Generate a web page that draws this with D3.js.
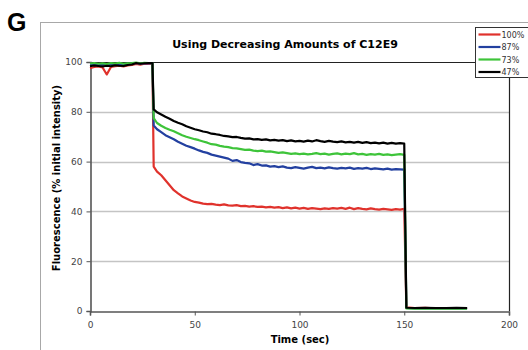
<!DOCTYPE html>
<html>
<head>
<meta charset="utf-8">
<script src="https://cdn.jsdelivr.net/npm/d3@7"></script>
<style>
body { margin: 0; background: #fff; }
svg { display: block; }
</style>
</head>
<body>
<div class="wrapper"></div>
<script>
// chart data

var times = [0, 2, 4, 6, 8, 10, 12, 14, 16, 18, 20, 22, 24, 26, 28, 29.8,
    30.4, 32, 34, 36, 38, 40, 42, 44, 46, 48, 50, 52, 54, 56, 58, 60,
    62, 64, 66, 68, 70, 72, 74, 76, 78, 80, 82, 84, 86, 88, 90,
    92, 94, 96, 98, 100, 102, 104, 106, 108, 110, 112, 114, 116, 118, 120,
    122, 124, 126, 128, 130, 132, 134, 136, 138, 140, 142, 144, 146, 148, 150,
    151, 155, 160, 165, 170, 175, 180];

var red100 = [97.5, 98, 98.2, 97.8, 95, 98, 98.3, 98.5, 98.2, 98.6, 98.8, 99.2, 98.9, 99.3, 99.2, 99.3,
    58, 56, 54.5, 52.5, 50.5, 48.5, 47.2, 46, 45.2, 44.4, 43.8, 43.5, 43.1, 42.9, 43, 42.7,
    42.5, 42.8, 42.4, 42.3, 42.5, 42.1, 42.2, 41.9, 42.1, 41.8, 41.9, 41.6, 41.8, 41.5, 41.7,
    41.3, 41.6, 41.2, 41.5, 41.1, 41.4, 41.0, 41.3, 41.1, 40.9, 41.2, 41.0, 41.3, 41.1, 41.4,
    41.0, 41.5, 40.9, 41.3, 41.0, 40.8, 41.2, 40.9, 40.7, 41.0, 40.8, 40.6, 40.9, 40.7, 41.0,
    1.5, 1.2, 1.3, 1.1, 1.2, 1.1, 1.2];

var blue87 = [99, 99.2, 99.0, 98.8, 99.1, 99.0, 98.7, 98.9, 99.1, 99.3, 99.4, 99.6, 99.3, 99.5, 99.4, 99.4,
    74.5, 73, 71.8, 70.6, 69.8, 69, 68, 67.2, 66.4, 65.8, 65.2, 64.5, 63.9, 63.5, 62.8, 62.4,
    62.0, 61.6, 61.2, 60.3, 60.6, 59.8, 59.5, 59.3, 58.6, 59.0, 58.4, 58.5, 58.0, 58.2, 57.8,
    58.1, 57.6, 57.4, 57.8, 57.5, 57.2, 57.6, 57.9, 57.4, 57.6, 57.3, 57.7, 57.4, 57.2, 57.5,
    57.3, 57.6, 57.1, 57.4, 57.2, 57.5, 57.0, 57.3, 57.1, 56.9, 57.2, 56.8, 57.0, 56.9, 56.8,
    1.2, 1.0, 1.1, 1.0, 1.0, 1.1, 1.0];

var green73 = [99.4, 99.6, 99.3, 99.5, 99.2, 99.6, 99.4, 99.7, 99.3, 99.5, 99.6, 99.8, 99.5, 99.7, 99.6, 99.5,
    77.5, 75.5, 74.4, 73.5, 72.8, 72.2, 71.4, 70.6, 70.0, 69.5, 69.0, 68.6, 68.1, 67.6, 67.0, 66.8,
    66.3, 66.0, 65.8, 65.4, 65.3, 65.0, 64.7, 64.8, 64.4, 64.2, 64.4, 64.0, 64.1, 63.8, 63.5,
    63.7, 63.4, 63.1, 63.3, 63.0, 63.2, 62.9, 63.1, 63.4, 63.0, 63.2, 62.8, 63.1, 63.3, 62.9,
    63.2, 63.0, 63.4, 62.9, 63.1, 62.7, 63.0, 62.8, 63.1, 62.7, 62.9, 62.6, 62.8, 63.0, 62.7,
    1.0, 0.9, 1.0, 0.9, 0.9, 1.0, 0.9];

var black47 = [98.3, 98.6, 98.4, 98.2, 98.5, 98.3, 98.7, 98.5, 98.4, 98.8, 99.0, 99.6, 99.3, 99.5, 99.6, 99.6,
    81, 79.8, 78.9, 78.0, 77.2, 76.3, 75.6, 75.0, 74.2, 73.6, 73.0, 72.6, 72.1, 71.8, 71.2, 71.0,
    70.7, 70.3, 70.1, 69.8, 69.9, 69.5, 69.2, 69.3, 68.9, 69.0, 68.7, 68.9, 68.5, 68.7, 68.4,
    68.6, 68.2, 68.5, 68.1, 68.3, 68.0, 68.4, 68.1, 68.6, 68.2, 67.9, 68.3, 68.0, 67.8, 68.1,
    67.7, 67.9, 67.6, 67.9, 67.5, 67.8, 67.4, 67.6, 67.3, 67.6, 67.2, 67.5, 67.2, 67.4, 67.2,
    1.3, 1.2, 1.3, 1.2, 1.2, 1.3, 1.2];

var seriesNames = ["100%", "87%", "73%", "47%"];
var seriesValues = [red100, blue87, green73, black47];
var seriesColors = ["#e0322c", "#2340a0", "#3ec43a", "#000000"];

var xTicks = [0, 50, 100, 150, 200];
var yTicks = [0, 20, 40, 60, 80, 100];

var svgWidth = 528;
var svgHeight = 350;
var plot = {left: 90, right: 509, top: 62, bottom: 311};

var svg = d3.select(".wrapper").append("svg")
    .attr("width", svgWidth)
    .attr("height", svgHeight);

// outer chart frame
svg.append("rect")
    .attr("x", 40.5).attr("y", 22.5)
    .attr("width", 600).attr("height", 400)
    .attr("fill", "#fff")
    .attr("stroke", "#a8a8a8");

// panel letter
svg.append("text")
    .attr("x", 7).attr("y", 31)
    .attr("font-family", "Liberation Sans, Arial, sans-serif")
    .attr("font-weight", "bold")
    .attr("font-size", 25)
    .text("G");

var x = d3.scaleLinear().domain([0, 200]).range([plot.left, plot.right]);
var y = d3.scaleLinear().domain([0, 100]).range([plot.bottom, plot.top]);

// gridlines
svg.append("g")
    .selectAll("line")
    .data(yTicks.filter(function(d) { return d > 0 && d < 100; }))
    .enter()
    .append("line")
    .attr("x1", plot.left).attr("x2", plot.right)
    .attr("y1", function(d) { return Math.round(y(d)) + 0.5; })
    .attr("y2", function(d) { return Math.round(y(d)) + 0.5; })
    .attr("stroke", "#c4c4c4")
    .attr("stroke-width", 1.3);

// top and right border of plot area
svg.append("path")
    .attr("d", "M" + plot.left + "," + (plot.top + 0.5) + "H" + (plot.right + 0.5) + "V" + plot.bottom)
    .attr("fill", "none")
    .attr("stroke", "#222")
    .attr("stroke-width", 1.2);

// axes
var xAxis = d3.axisBottom(x).tickValues(xTicks).tickSize(4).tickPadding(6);
var yAxis = d3.axisLeft(y).tickValues(yTicks).tickSize(4).tickPadding(4);

var gx = svg.append("g")
    .attr("transform", "translate(0," + (plot.bottom + 0.5) + ")")
    .call(xAxis);
var gy = svg.append("g")
    .attr("transform", "translate(" + (plot.left + 0.5) + ",0)")
    .call(yAxis);

[gx, gy].forEach(function(g) {
    g.select(".domain").attr("stroke", "#555").attr("stroke-width", 1.6);
    g.selectAll(".tick line").attr("stroke", "#555");
    g.selectAll(".tick text")
        .attr("fill", "#444")
        .attr("font-family", "DejaVu Sans, Verdana, sans-serif")
        .attr("font-size", 9);
});

// series lines
var line = d3.line()
    .x(function(d, i) { return x(times[i]); })
    .y(function(d) { return y(d); });

svg.append("g")
    .selectAll("path")
    .data(seriesValues)
    .enter()
    .append("path")
    .attr("d", line)
    .attr("fill", "none")
    .attr("stroke", function(d, i) { return seriesColors[i]; })
    .attr("stroke-width", 2.2)
    .attr("stroke-linejoin", "round");

// titles
svg.append("text")
    .attr("x", 285).attr("y", 48)
    .attr("text-anchor", "middle")
    .attr("font-family", "DejaVu Sans, Verdana, sans-serif")
    .attr("font-weight", "bold")
    .attr("font-size", 11)
    .text("Using Decreasing Amounts of C12E9");

svg.append("text")
    .attr("x", 300).attr("y", 343)
    .attr("text-anchor", "middle")
    .attr("font-family", "DejaVu Sans, Verdana, sans-serif")
    .attr("font-weight", "bold")
    .attr("font-size", 10)
    .text("Time (sec)");

svg.append("text")
    .attr("transform", "translate(60,178) rotate(-90)")
    .attr("text-anchor", "middle")
    .attr("font-family", "DejaVu Sans, Verdana, sans-serif")
    .attr("font-weight", "bold")
    .attr("font-size", 10)
    .text("Fluorescence (% initial intensity)");

// legend
var legend = svg.append("g").attr("transform", "translate(475.5,27.5)");
legend.append("rect")
    .attr("width", 70).attr("height", 50)
    .attr("fill", "#fff")
    .attr("stroke", "#333");

var items = legend.selectAll("g")
    .data(seriesNames)
    .enter()
    .append("g")
    .attr("transform", function(d, i) { return "translate(0," + (7 + i * 12.5) + ")"; });

items.append("line")
    .attr("x1", 3).attr("x2", 25)
    .attr("stroke", function(d, i) { return seriesColors[i]; })
    .attr("stroke-width", 2.2);

items.append("text")
    .attr("x", 26).attr("y", 3)
    .attr("fill", "#333")
    .attr("font-family", "DejaVu Sans, Verdana, sans-serif")
    .attr("font-size", 8)
    .text(function(d) { return d; });
</script>
</body>
</html>
